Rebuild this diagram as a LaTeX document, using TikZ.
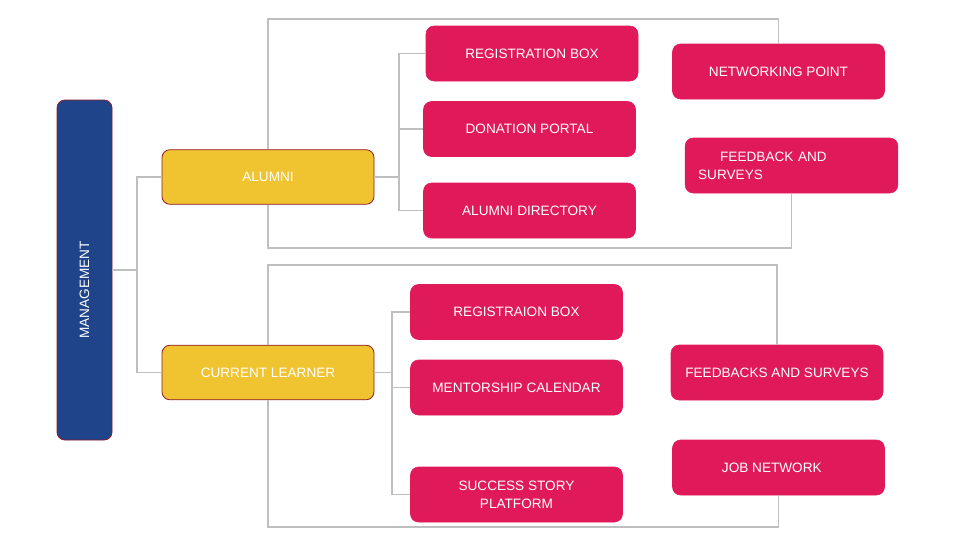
\documentclass[tikz,border=0pt]{standalone}
\usepackage{fontspec}
\setmainfont{Liberation Sans}
\definecolor{pinkc}{HTML}{E0195A}
\definecolor{yellowc}{HTML}{F0C330}
\definecolor{bluec}{HTML}{1F4489}
\definecolor{redline}{HTML}{8B1A2A}
\definecolor{grayline}{HTML}{BFBFBF}
\begin{document}
\begin{tikzpicture}[x=0.75pt,y=-0.75pt,
  base/.style={rounded corners=6pt,text=white,font=\fontsize{10.2pt}{13.5pt}\selectfont,inner sep=0pt,align=center},
  pbox/.style={base,fill=pinkc,draw=pinkc,minimum width=159pt,minimum height=41.25pt},
  ybox/.style={base,fill=yellowc,draw=redline,line width=0.6pt,minimum width=159pt,minimum height=41pt},
  mbox/.style={base,fill=bluec,draw=redline,line width=0.6pt,minimum width=255pt,minimum height=41.25pt,rotate=90},
  conn/.style={draw=grayline,line width=0.8pt}]
\useasboundingbox (0,0) rectangle (960,540);
% nodes
\node[mbox] (mgmt) at (84.5,270) {MANAGEMENT\hspace*{30pt}};
\node[ybox] (alumni) at (268,177) {ALUMNI};
\node[ybox] (cl) at (268,372.5) {CURRENT LEARNER};
\node[pbox] (reg) at (532,53.5) {REGISTRATION BOX};
\node[pbox] (don) at (529.5,129) {DONATION PORTAL};
\node[pbox] (dir) at (529.5,210.5) {ALUMNI DIRECTORY};
\node[pbox] (net) at (778.5,71.5) {NETWORKING POINT};
\node[pbox,text width=140pt,inner xsep=9.75pt,align=left] (fb) at (791.5,165.5) {\hspace*{16.5pt}FEEDBACK AND\\SURVEYS};
\node[pbox] (reg2) at (516.5,312) {REGISTRAION BOX};
\node[pbox] (men) at (516.5,387.5) {MENTORSHIP CALENDAR};
\node[pbox] (suc) at (516.5,494.5) {SUCCESS STORY\\PLATFORM};
\node[pbox] (fbs) at (777,372.5) {FEEDBACKS AND SURVEYS};
\node[pbox] (job) at (778.5,467.5) {JOB NETWORK\hspace*{10pt}};
% junctions
\coordinate (j1) at (137,270);
\coordinate (j2) at (399,177);
\coordinate (j3) at (392,372.5);
\coordinate (t1) at (268,19);
\coordinate (t2) at (268,248);
\coordinate (t3) at (268,265);
\coordinate (t4) at (268,527);
% connectors
\draw[conn] (mgmt.south) -- (j1) |- (alumni.west);
\draw[conn] (j1) |- (cl.west);
\draw[conn] (alumni.east) -- (j2) |- (reg.west);
\draw[conn] (j2) |- (don.west);
\draw[conn] (j2) |- (dir.west);
\draw[conn] (cl.east) -- (j3) |- (reg2.west);
\draw[conn] (j3) |- (men.west);
\draw[conn] (j3) |- (suc.west);
\draw[conn] (alumni.north) -- (t1) -| (net.north);
\draw[conn] (alumni.south) -- (t2) -| (fb.south);
\draw[conn] (cl.north) -- (t3) -| (fbs.north);
\draw[conn] (cl.south) -- (t4) -| (job.south);
\end{tikzpicture}
\end{document}
